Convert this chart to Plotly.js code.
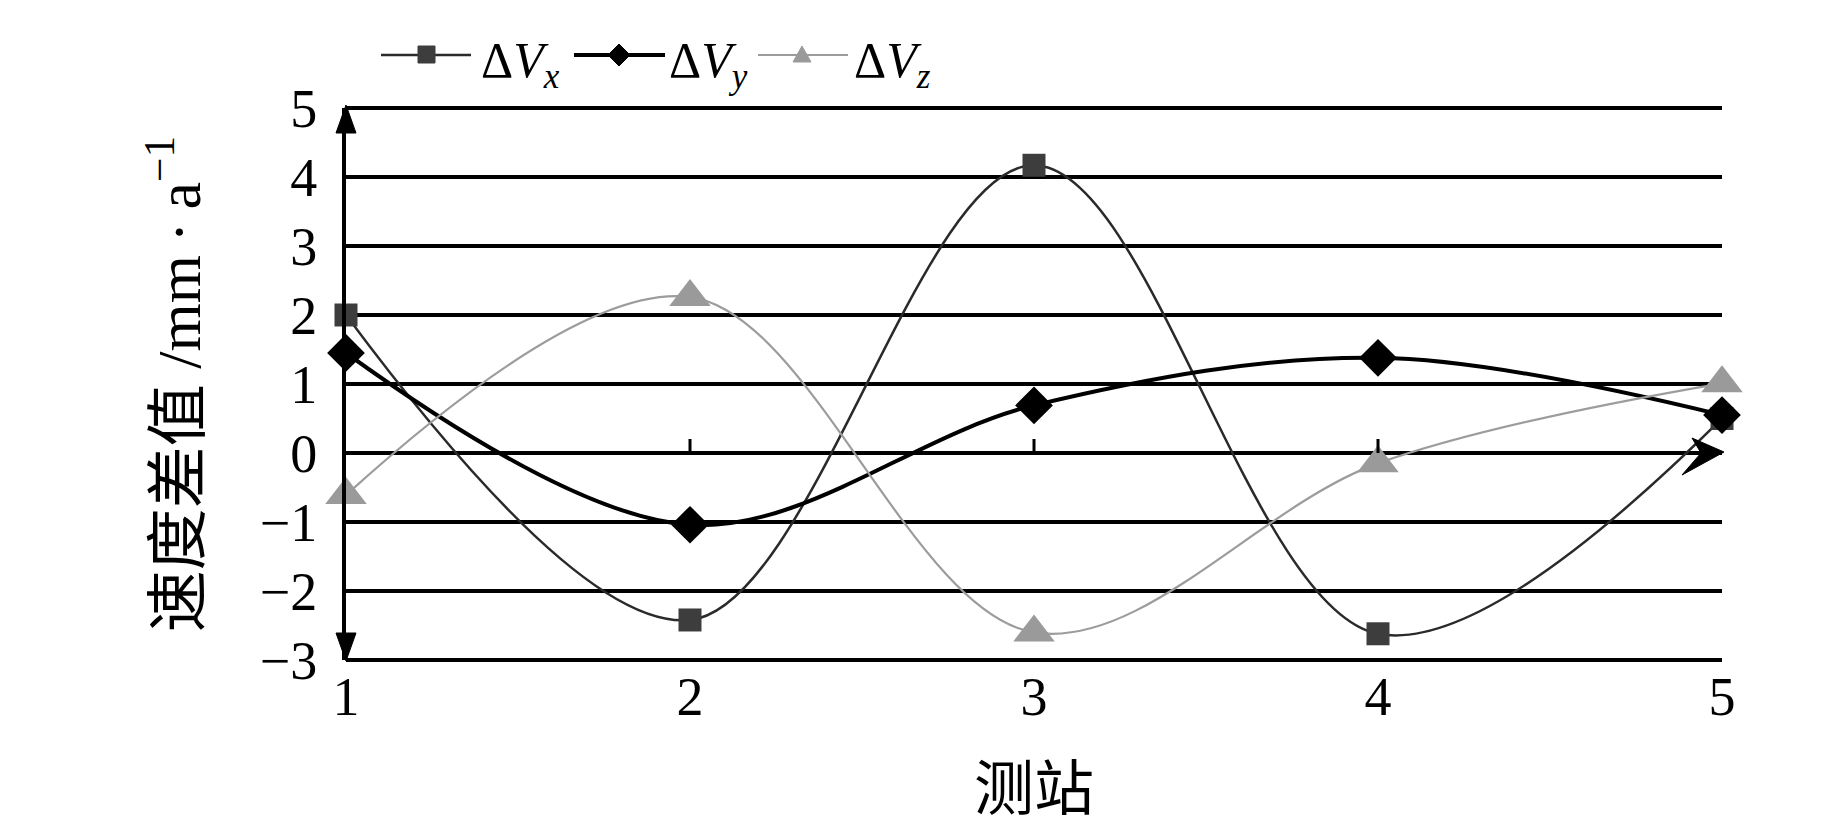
<!DOCTYPE html>
<html><head><meta charset="utf-8">
<script src="https://cdn.plot.ly/plotly-3.0.1.min.js"></script>
<style>html,body{margin:0;padding:0;background:#fff}</style>
</head><body><div id="chart" style="width:1843px;height:827px"></div>
<script>
// ---- data ----
const stations = [1, 2, 3, 4, 5];
const stationLabels = ['1', '2', '3', '4', '5'];
const dVx = [2.0, -2.42, 4.17, -2.62, 0.5];
const dVy = [1.45, -1.04, 0.69, 1.38, 0.55];
const dVz = [-0.61, 2.26, -2.6, -0.15, 1.01];
const yTicks = [-3, -2, -1, 0, 1, 2, 3, 4, 5];
const yTickLabels = ['\u22123', '\u22122', '\u22121', '0', '1', '2', '3', '4', '5'];
const seriesNames = ['\u0394V<sub>x</sub>', '\u0394V<sub>y</sub>', '\u0394V<sub>z</sub>'];
const legendLabels = ['\u0394<i>V</i><sub><i>x</i></sub>', '\u0394<i>V</i><sub><i>y</i></sub>', '\u0394<i>V</i><sub><i>z</i></sub>'];
const xTitle = '测站';
const yTitle = '速度差值 /mm\u2009·\u2009a<sup>\u22121</sup>';

const xRange = [1, 5];
const yRange = [-3, 5];
const xp = v => (v - xRange[0]) / (xRange[1] - xRange[0]);
const yp = v => (v - yRange[0]) / (yRange[1] - yRange[0]);

const serif = 'Liberation Serif, Times New Roman, Noto Sans CJK SC, serif';

const traces = [
  {x: stations, y: dVx, name: seriesNames[0], mode: 'lines+markers', cliponaxis: false,
   line: {shape: 'spline', smoothing: 1, color: '#2a2a2a', width: 2.5},
   marker: {symbol: 'square', size: 23, color: '#3d3d3d'}},
  {x: stations, y: dVy, name: seriesNames[1], mode: 'lines+markers', cliponaxis: false,
   line: {shape: 'spline', smoothing: 1, color: '#000000', width: 4},
   marker: {symbol: 'diamond', size: 29, color: '#000000'}},
  {x: stations, y: dVz, name: seriesNames[2], mode: 'lines+markers', cliponaxis: false,
   line: {shape: 'spline', smoothing: 1, color: '#9c9c9c', width: 2.2},
   marker: {symbol: 'triangle-up', size: 36, color: '#9a9a9a'}}
];

const pp = {xref: 'paper', yref: 'paper', xsizemode: 'pixel', ysizemode: 'pixel'};
const blk = {fillcolor: '#000', line: {color: '#000', width: 1}};

const shapes = [
  // edge grid lines (top and bottom)
  {type: 'line', xref: 'paper', yref: 'paper', x0: 0, x1: 1, y0: yp(yRange[1]), y1: yp(yRange[1]), line: {color: '#000', width: 4}},
  {type: 'line', xref: 'paper', yref: 'paper', x0: 0, x1: 1, y0: yp(yRange[0]), y1: yp(yRange[0]), line: {color: '#000', width: 4}},
  // axis arrows
  Object.assign({type: 'path', xanchor: xp(1), yanchor: yp(5), path: 'M0,3 L-10,-25 L10,-25 Z'}, pp, blk),
  Object.assign({type: 'path', xanchor: xp(1), yanchor: yp(-3), path: 'M0,-1 L-10,27 L10,27 Z'}, pp, blk),
  Object.assign({type: 'path', xanchor: xp(5), yanchor: yp(0), path: 'M2,1 L-30,15 L-21,0 L-40,-22 Z'}, pp, blk),
  // small ticks on zero line
  Object.assign({type: 'line', xanchor: xp(2), yanchor: yp(0), x0: 0, x1: 0, y0: 0, y1: 14, line: {color: '#000', width: 3}}, pp),
  Object.assign({type: 'line', xanchor: xp(3), yanchor: yp(0), x0: 0, x1: 0, y0: 0, y1: 14, line: {color: '#000', width: 3}}, pp),
  Object.assign({type: 'line', xanchor: xp(4), yanchor: yp(0), x0: 0, x1: 0, y0: 0, y1: 14, line: {color: '#000', width: 3}}, pp),
  // custom legend (pixel offsets from the plot's top-left corner)
  Object.assign({type: 'line', xanchor: 0, yanchor: 1, x0: 35, x1: 125, y0: 53, y1: 53, line: {color: '#2a2a2a', width: 2.5}}, pp),
  Object.assign({type: 'rect', xanchor: 0, yanchor: 1, x0: 72, x1: 89, y0: 45, y1: 62, fillcolor: '#3d3d3d', line: {color: '#3d3d3d', width: 1}}, pp),
  Object.assign({type: 'line', xanchor: 0, yanchor: 1, x0: 228, x1: 319, y0: 53, y1: 53, line: {color: '#000', width: 4}}, pp),
  Object.assign({type: 'path', xanchor: 0, yanchor: 1, path: 'M262,53 L273,64 L284,53 L273,42 Z'}, pp, blk),
  Object.assign({type: 'line', xanchor: 0, yanchor: 1, x0: 412, x1: 502, y0: 53, y1: 53, line: {color: '#9c9c9c', width: 2.2}}, pp),
  Object.assign({type: 'path', xanchor: 0, yanchor: 1, path: 'M447,46 L465,46 L456,62 Z', fillcolor: '#9a9a9a', line: {color: '#9a9a9a', width: 1}}, pp)
];

const legendX = [133, 321, 506];
const annotations = legendLabels.map((t, i) => ({
  text: t, xref: 'paper', yref: 'paper', x: 0, y: 1, xanchor: 'left', yanchor: 'middle',
  xshift: legendX[i], yshift: 44, showarrow: false,
  font: {family: serif, size: 50, color: '#000'}
}));

const layout = {
  width: 1843, height: 827,
  margin: {l: 346, r: 121, t: 108, b: 167},
  paper_bgcolor: '#fff', plot_bgcolor: '#fff',
  showlegend: false,
  xaxis: {
    range: xRange, tickvals: stations, ticktext: stationLabels,
    showgrid: false, zeroline: false, showline: false, ticks: '',
    tickfont: {family: serif, size: 54, color: '#000'},
    automargin: false,
    title: {text: xTitle, font: {family: 'Noto Sans CJK SC', size: 60, color: '#000'}, standoff: 50}
  },
  yaxis: {
    range: yRange, tickvals: yTicks, ticktext: yTickLabels,
    showgrid: true, gridcolor: '#000', gridwidth: 4,
    zeroline: false, showline: true, linecolor: '#000', linewidth: 4, ticks: '',
    tickfont: {family: serif, size: 54, color: '#000'},
    ticklabelstandoff: 14,
    automargin: false,
    title: {text: yTitle, font: {family: serif, size: 62, color: '#000'}, standoff: 40}
  },
  shapes: shapes,
  annotations: annotations
};

Plotly.newPlot('chart', traces, layout, {displayModeBar: false, staticPlot: true});
</script>
</body></html>
